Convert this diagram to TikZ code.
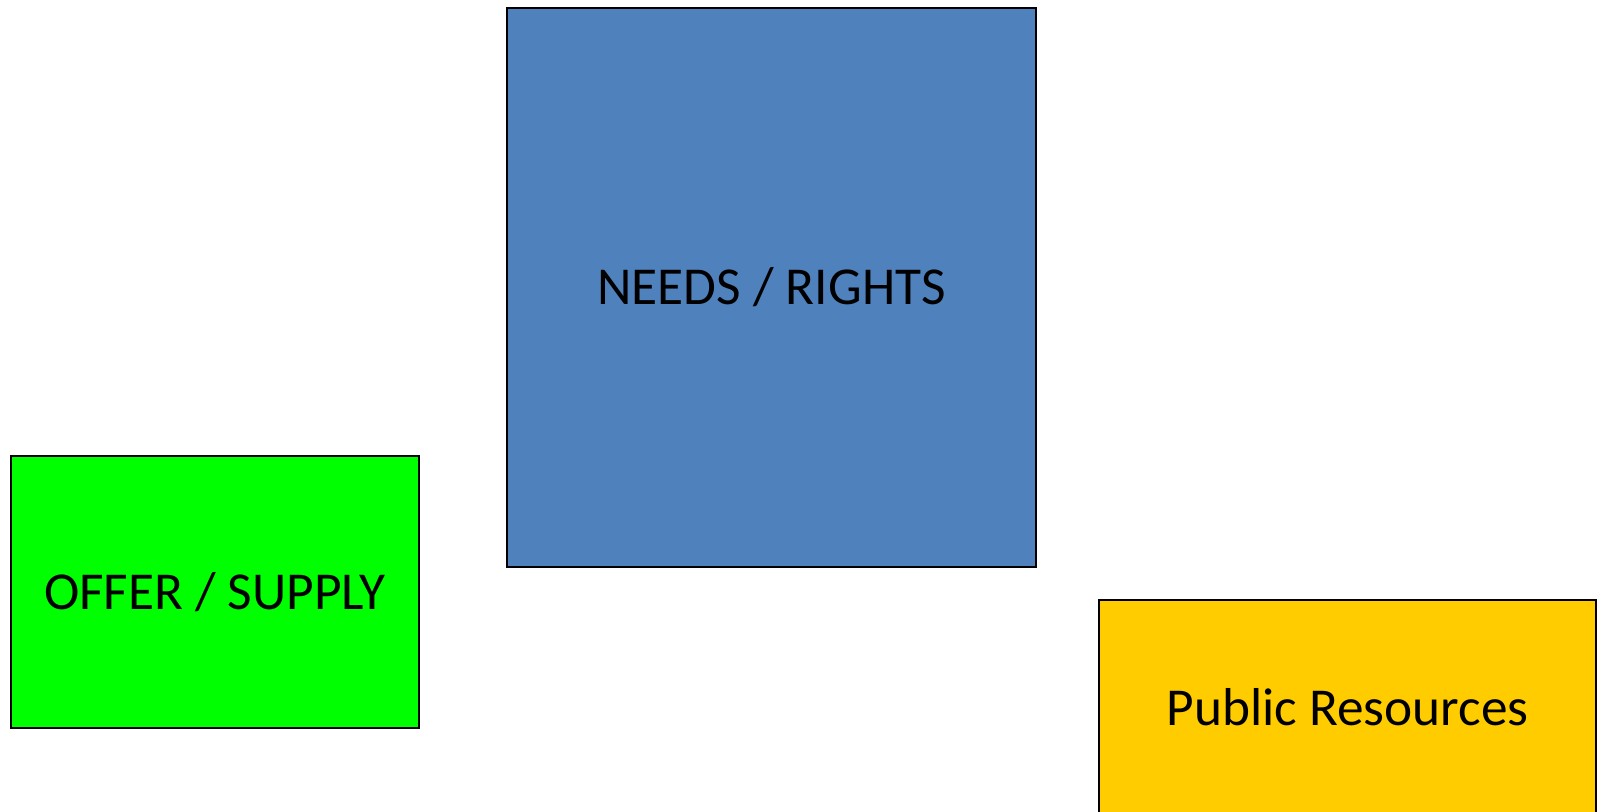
\documentclass[tikz,border=0pt]{standalone}
\usepackage{fontspec}
\setmainfont{Carlito}
\definecolor{needsblue}{HTML}{4F81BD}
\definecolor{offergreen}{HTML}{00FF00}
\definecolor{pubyellow}{HTML}{FFCC00}
\tikzset{
  box/.style={draw=black, line width=1.5pt, rectangle, inner sep=0pt,
    font=\fontsize{40}{48}\selectfont, text=black}
}
\begin{document}
\begin{tikzpicture}[x=0.75pt, y=-0.75pt]
\useasboundingbox (0,0) rectangle (1597,812);
\clip (0,0) rectangle (1597,812);
\node[box, fill=needsblue, minimum width=529*0.75pt, minimum height=559*0.75pt] (needs) at (771.5,287.5) {NEEDS / RIGHTS};
\node[box, fill=offergreen, minimum width=408*0.75pt, minimum height=272*0.75pt] (offer) at (215,592) {OFFER / SUPPLY};
\node[box, fill=pubyellow, minimum width=497*0.75pt, minimum height=213*0.75pt] (pub) at (1347.5,707) {Public Resources};
\end{tikzpicture}
\end{document}
